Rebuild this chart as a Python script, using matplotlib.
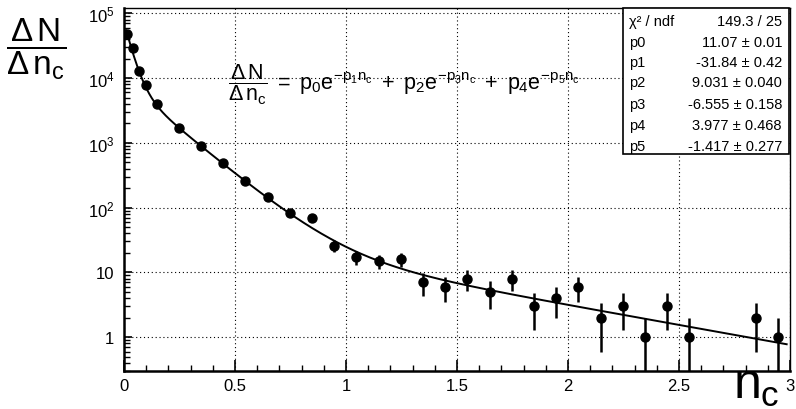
import numpy as np
import matplotlib
matplotlib.use("Agg")
import matplotlib.pyplot as plt
from matplotlib.patches import Rectangle
from matplotlib.ticker import FixedLocator, FixedFormatter, LogLocator, MultipleLocator, NullFormatter

plt.rcParams['font.family'] = ['Liberation Sans', 'DejaVu Sans']
plt.rcParams['mathtext.fontset'] = 'custom'
plt.rcParams['mathtext.rm'] = 'Liberation Sans'
plt.rcParams['mathtext.it'] = 'Liberation Sans'
plt.rcParams['mathtext.bf'] = 'Liberation Sans:bold'

# data points
nc = [0.013, 0.040, 0.068, 0.097, 0.147, 0.247, 0.347, 0.447, 0.547, 0.647,
      0.747, 0.847, 0.947, 1.047, 1.147, 1.247, 1.347, 1.447, 1.547, 1.647,
      1.747, 1.847, 1.947, 2.047, 2.147, 2.247, 2.347, 2.447, 2.547, 2.847, 2.947]
counts = [47900, 29100, 12850, 7800, 3970, 1690, 890, 487, 255, 144,
          84, 68, 26, 17, 15, 16, 7, 6, 8, 5,
          8, 3, 4, 6, 2, 3, 1, 3, 1, 2, 1]

# fit result (ROOT expo sum: exp(p0 + p1*x) + exp(p2 + p3*x) + exp(p4 + p5*x))
par_names = ['p0', 'p1', 'p2', 'p3', 'p4', 'p5']
par_values = [11.07, -31.84, 9.031, -6.555, 3.977, -1.417]
par_text = ['11.07 ± 0.01', '-31.84 ± 0.42', '9.031 ± 0.040',
            '-6.555 ± 0.158', '3.977 ± 0.468', '-1.417 ± 0.277']
chi2_text = '149.3 / 25'
fit_range = [0.01, 2.985]

xticks = [0, 0.5, 1, 1.5, 2, 2.5, 3]
xtick_labels = ['0', '0.5', '1', '1.5', '2', '2.5', '3']
yticks = [1, 10, 100, 1000, 10000, 100000]
ytick_labels = ['1', '10', r'$10^{2}$', r'$10^{3}$', r'$10^{4}$', r'$10^{5}$']

W, H = 796, 410
fig = plt.figure(figsize=(W / 100, H / 100), dpi=100)
ax = fig.add_axes([124 / W, 1 - 372 / H, 666 / W, 363 / H])
ax.set_yscale('log')

x = np.array(nc)
y = np.array(counts, dtype=float)
err = np.sqrt(y)
lo = np.minimum(err, y - 1e-3)
ax.errorbar(x, y, yerr=[lo, err], fmt='o', color='black', ms=6.5,
            elinewidth=1.8, capsize=0, zorder=3)

xf = np.linspace(fit_range[0], fit_range[1], 600)
p = par_values
yf = np.exp(p[0] + p[1] * xf) + np.exp(p[2] + p[3] * xf) + np.exp(p[4] + p[5] * xf)
ax.plot(xf, yf, color='black', lw=1.4, zorder=4)

ax.set_xlim(0, 3)
ax.set_ylim(0.3, 1.21e5)

ax.xaxis.set_major_locator(FixedLocator(xticks))
ax.xaxis.set_major_formatter(FixedFormatter(xtick_labels))
ax.xaxis.set_minor_locator(MultipleLocator(0.1))
ax.yaxis.set_major_locator(FixedLocator(yticks))
ax.yaxis.set_major_formatter(FixedFormatter(ytick_labels))
ax.yaxis.set_minor_locator(LogLocator(base=10, subs=np.arange(2, 10)))
ax.yaxis.set_minor_formatter(NullFormatter())

ax.tick_params(axis='x', which='major', direction='in', length=8, width=1.2,
               labelsize=12, pad=5)
ax.tick_params(axis='x', which='minor', direction='in', length=4, width=1.0)
ax.tick_params(axis='y', which='major', direction='in', length=6, width=1.2,
               labelsize=12, pad=7)
ax.tick_params(axis='y', which='minor', direction='in', length=4.5, width=1.0)

ax.grid(True, which='major', color='black', linestyle=(0, (1, 2.5)), lw=0.8)
ax.set_axisbelow(True)
for side in ['left', 'bottom']:
    ax.spines[side].set_linewidth(1.8)
for side in ['top', 'right']:
    ax.spines[side].set_linewidth(1.0)

# axis titles
fig.text(6 / W, 1 - 49 / H, r'$\dfrac{\Delta\,N}{\Delta\,n_c}$', fontsize=24,
         ha='left', va='center')
fig.text(779 / W, 1 - 399 / H, r'$n_c$', fontsize=36, ha='right', va='baseline')

# fit formula
fig.text(228 / W, 1 - 85 / H,
         r'$\dfrac{\Delta\,N}{\Delta\,n_c}\ =\ p_0e^{-p_1n_c}\ +\ p_2e^{-p_3n_c}\ +\ p_4e^{-p_5n_c}$',
         fontsize=15.5, ha='left', va='center')

# stats box
box_l, box_r, box_t, box_b = 623, 789, 9, 155
fig.patches.append(Rectangle((box_l / W, 1 - box_b / H), (box_r - box_l) / W,
                             (box_b - box_t) / H, transform=fig.transFigure,
                             facecolor='white', edgecolor='black', lw=1.2, zorder=5))
rows_y = [21.7, 42.7, 63.3, 83.3, 105, 126, 146.7]
labels = ['χ² / ndf'] + par_names
values = [chi2_text] + par_text
for ry, lab, val in zip(rows_y, labels, values):
    fig.text(629 / W, 1 - ry / H, lab, fontsize=10.5, ha='left', va='center', zorder=6)
    fig.text(782 / W, 1 - ry / H, val, fontsize=10.5, ha='right', va='center', zorder=6)

fig.savefig('out.png', dpi=100)
